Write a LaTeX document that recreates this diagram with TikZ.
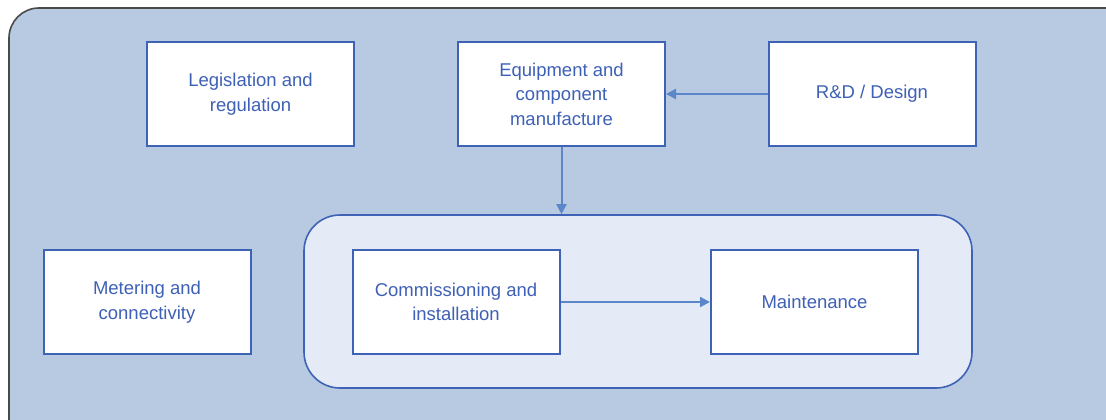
\documentclass[tikz,border=0pt]{standalone}
\usepackage{fontspec}
\setmainfont{Liberation Sans}
\usetikzlibrary{arrows.meta}
\definecolor{panelfill}{HTML}{B8C9E2}
\definecolor{panelline}{HTML}{4A4A4A}
\definecolor{groupfill}{HTML}{E4EBF6}
\definecolor{boxline}{HTML}{3D62B6}
\definecolor{boxtext}{HTML}{3E60B6}
\definecolor{flowline}{HTML}{5B86C9}
\tikzset{
  stagebox/.style={draw=boxline, line width=2pt, fill=white, text=boxtext,
    align=center, font=\fontsize{18.5}{24.5}\selectfont,
    minimum width=207pt, minimum height=104pt, inner sep=0pt},
  flow/.style={draw=flowline, line width=2pt,
    -{Triangle[length=10pt,width=10pt]}},
}
\begin{document}
\begin{tikzpicture}[x=1pt,y=-1pt]
\useasboundingbox (0,0) rectangle (1106,420);
\begin{scope}
  \clip (0,0) rectangle (1106,420);
  % outer panel, running past the right and bottom edges
  \draw[panelline, fill=panelfill, line width=1.6pt, rounded corners=30pt]
    (9,8) rectangle (1140,450);
\end{scope}
% grouping for the on-site stages
\node[draw=boxline, line width=1.6pt, fill=groupfill, rounded corners=36pt,
  minimum width=668pt, minimum height=173pt, inner sep=0pt]
  (site) at (638,301.5) {};
\node[stagebox] (leg) at (250.5,94) {Legislation and\\regulation};
\node[stagebox] (equip) at (561.5,94) {Equipment and\\component\\manufacture};
\node[stagebox] (rnd) at (872,94) {R\&D / Design};
\node[stagebox] (meter) at (147,302) {Metering and\\connectivity};
\node[stagebox] (comm) at (456,302) {Commissioning and\\installation};
\node[stagebox] (maint) at (814.5,302) {Maintenance};
\draw[flow] (rnd.west) -- (equip.east);
\draw[flow] (equip.south) -- (site.north -| equip.south);
\draw[flow] (comm.east) -- (maint.west);
\end{tikzpicture}
\end{document}
